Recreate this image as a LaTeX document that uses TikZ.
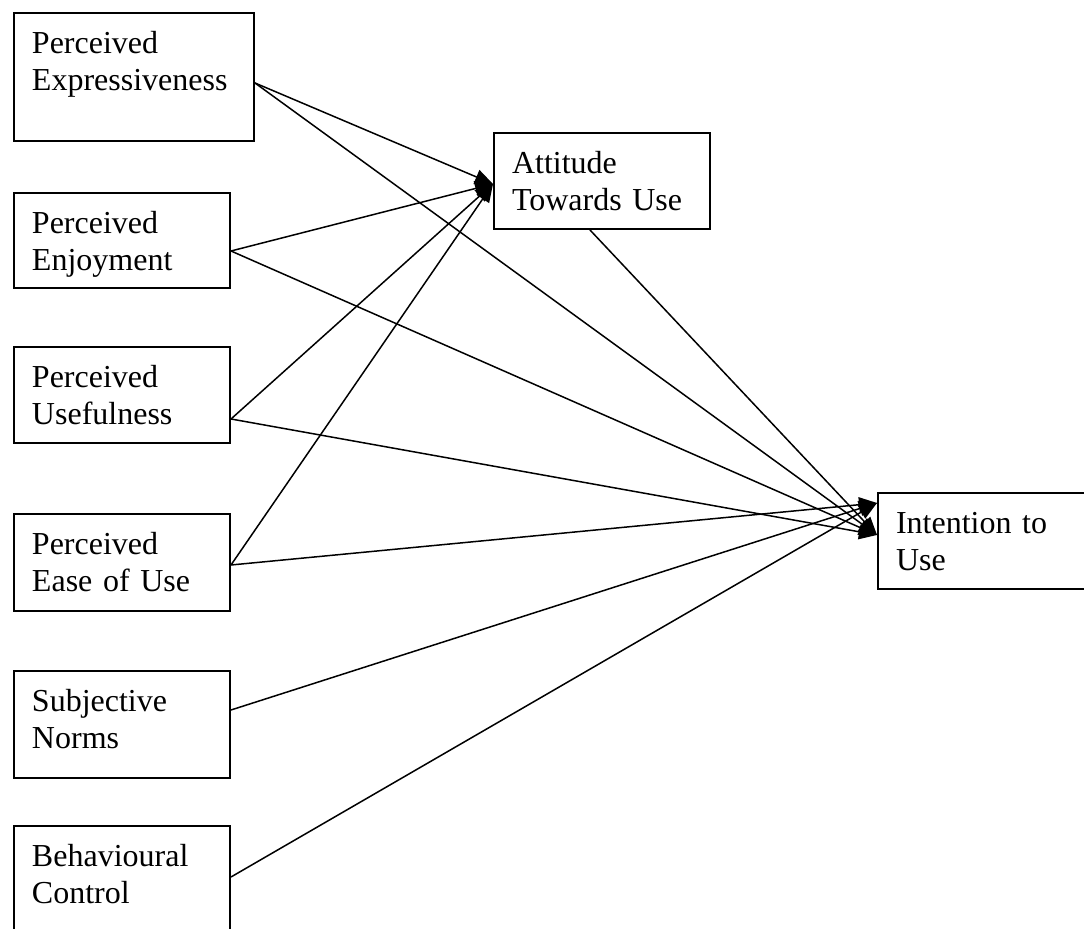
\documentclass[tikz,border=0pt]{standalone}
\usepackage{fontspec}
\setmainfont{Liberation Serif}
\usetikzlibrary{arrows.meta}
\tikzset{
  factor/.style={draw,line width=1pt,anchor=north west,inner xsep=9pt,inner ysep=0pt,text width=90pt,align=left,text height=20.5pt,font=\fontsize{16}{18.5}\selectfont},
  link/.style={-{Triangle[length=9pt,width=7.5pt]},line width=0.75pt}
}

\begin{document}
\begin{tikzpicture}[x=0.5pt,y=-0.5pt]
  \useasboundingbox (0,0) rectangle (1084,929);

  % predictors
  \node[factor,text width=102pt,text depth=43.5pt] (expr) at (13,12) {Perceived\\Expressiveness};
  \node[factor,text depth=27pt] (enjoy) at (13,192) {Perceived\\Enjoyment};
  \node[factor,text depth=27.5pt] (useful) at (13,346) {Perceived\\Usefulness};
  \node[factor,text depth=28pt] (ease) at (13,513) {Perceived\\Ease of Use};
  \node[factor,text depth=33pt] (norms) at (13,670) {Subjective\\Norms};
  \node[factor,text depth=35pt] (control) at (13,825) {Behavioural\\Control};

  % outcomes
  \node[factor,text depth=27.5pt] (attitude) at (493,132) {Attitude\\Towards Use};
  \node[factor,text depth=27.5pt] (intention) at (877,492) {Intention to\\Use};

  \coordinate (expr-out) at ([yshift=-35.5pt]expr.north east);
  \coordinate (enjoy-out) at ([yshift=-29.5pt]enjoy.north east);
  \coordinate (useful-out) at ([yshift=-36.5pt]useful.north east);
  \coordinate (ease-out) at ([yshift=-26pt]ease.north east);
  \coordinate (norms-out) at ([yshift=-20pt]norms.north east);
  \coordinate (control-out) at ([yshift=-26pt]control.north east);
  \coordinate (attitude-out) at ([xshift=-6pt]attitude.south);
  \coordinate (attitude-in) at ([yshift=-1.5pt]attitude.west);
  \coordinate (intention-hi) at ([yshift=-5.5pt]intention.north west);
  \coordinate (intention-lo) at ([yshift=-21.5pt]intention.north west);

  \foreach \n in {expr,enjoy,useful,ease}{
    \draw[link] (\n-out) -- (attitude-in);
  }
  \foreach \n in {expr,enjoy,useful,attitude}{
    \draw[link] (\n-out) -- (intention-lo);
  }
  \foreach \n in {ease,norms,control}{
    \draw[link] (\n-out) -- (intention-hi);
  }
\end{tikzpicture}
\end{document}
